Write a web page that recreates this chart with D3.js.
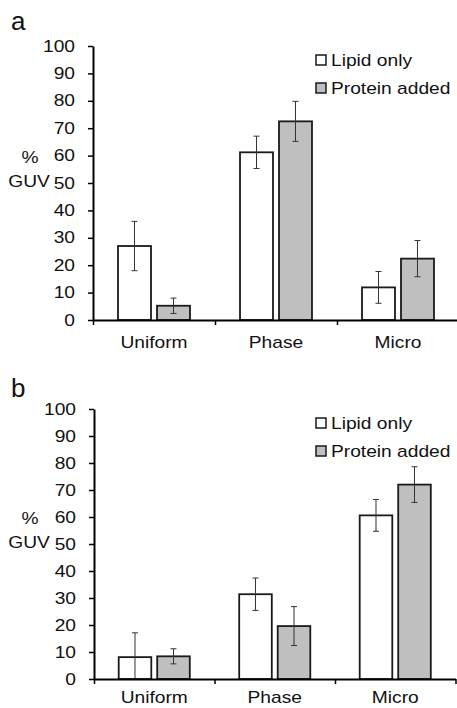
<!DOCTYPE html>
<html>
<head>
<meta charset="utf-8">
<script src="https://cdn.jsdelivr.net/npm/d3@7"></script>
<style>
  body { margin: 0; background: #fff; }
  text { font-family: Arial, "Liberation Sans", sans-serif; fill: #111; }
</style>
</head>
<body>
<svg id="chart" width="457" height="708"></svg>
<script>
// categories et séries
const categories = ["Uniform", "Phase", "Micro"];
const seriesNames = ["Lipid only", "Protein added"];
const yTicks = [0, 10, 20, 30, 40, 50, 60, 70, 80, 90, 100];

// panneau a
const aLipid = [27, 61.2, 11.9];
const aLipidErr = [9, 5.9, 5.8];
const aProtein = [5.2, 72.5, 22.4];
const aProteinErr = [2.8, 7.3, 6.6];

// panneau b
const bLipid = [8.1, 31.4, 60.6];
const bLipidErr = [9, 6, 5.9];
const bProtein = [8.4, 19.6, 72];
const bProteinErr = [2.8, 7.2, 6.6];

const fills = ["#ffffff", "#bfbfbf"];
const sx = 1.2; // le texte est étiré horizontalement dans l'image

const svg = d3.select("#chart");

const panels = [
  { letter: "a", letterY: 30, x0: 93, x1: 459, yTop: 46, yBottom: 320, labelY: 348,
    values: [aLipid, aProtein], errors: [aLipidErr, aProteinErr] },
  { letter: "b", letterY: 397, x0: 94, x1: 455.5, yTop: 409, yBottom: 679, labelY: 703,
    values: [bLipid, bProtein], errors: [bLipidErr, bProteinErr] }
];

panels.forEach(drawPanel);

function drawPanel(p) {
  const g = svg.append("g");

  const x = d3.scaleBand().domain(categories).range([p.x0, p.x1]);
  const bw = x.bandwidth();
  const xInner = d3.scaleBand().domain(seriesNames)
    .range([bw * 0.205, bw * 0.795]).paddingInner(0.154);
  const y = d3.scaleLinear().domain([0, 100]).range([p.yBottom, p.yTop]);

  // lettre du panneau
  g.append("text")
    .attr("x", 11).attr("y", p.letterY)
    .style("font-size", "26px")
    .text(p.letter);

  // barres
  seriesNames.forEach((s, si) => {
    g.append("g").selectAll("rect")
      .data(categories)
      .join("rect")
      .attr("x", c => x(c) + xInner(s))
      .attr("y", (c, i) => y(p.values[si][i]))
      .attr("width", xInner.bandwidth())
      .attr("height", (c, i) => y(0) - y(p.values[si][i]))
      .attr("fill", fills[si])
      .attr("stroke", "#1a1a1a")
      .attr("stroke-width", 1.8);
  });

  // barres d'erreur
  seriesNames.forEach((s, si) => {
    categories.forEach((c, i) => {
      const cx = x(c) + xInner(s) + xInner.bandwidth() / 2;
      const v = p.values[si][i], e = p.errors[si][i];
      const hi = v + e, lo = Math.max(0, v - e);
      const eg = g.append("g").attr("stroke", "#333").attr("stroke-width", 1);
      eg.append("line").attr("x1", cx).attr("x2", cx).attr("y1", y(hi)).attr("y2", y(lo));
      eg.append("line").attr("x1", cx - 3).attr("x2", cx + 3).attr("y1", y(hi)).attr("y2", y(hi));
      if (v - e > 0) {
        eg.append("line").attr("x1", cx - 3).attr("x2", cx + 3).attr("y1", y(lo)).attr("y2", y(lo));
      }
    });
  });

  // axe y
  const yAxis = g.append("g")
    .attr("transform", `translate(${p.x0},0)`)
    .call(d3.axisLeft(y).tickValues(yTicks).tickSize(5).tickSizeOuter(0));
  yAxis.select(".domain").attr("stroke", "#000").attr("stroke-width", 2);
  yAxis.selectAll(".tick line").attr("stroke", "#000").attr("stroke-width", 1.5);
  yAxis.selectAll(".tick text")
    .attr("x", -18 / sx)
    .attr("transform", `scale(${sx},1)`)
    .style("font-size", "16px")
    .attr("fill", "#111");

  // axe x : graduations aux limites des catégories
  const xEdges = d3.scaleLinear().domain([0, categories.length]).range([p.x0, p.x1]);
  const xTickAxis = g.append("g")
    .attr("transform", `translate(0,${p.yBottom})`)
    .call(d3.axisBottom(xEdges).tickValues(d3.range(categories.length + 1))
      .tickFormat("").tickSize(5).tickSizeOuter(0));
  xTickAxis.select(".domain").attr("stroke", "#000").attr("stroke-width", 2);
  xTickAxis.selectAll(".tick line").attr("stroke", "#000").attr("stroke-width", 1.5);

  // étiquettes des catégories
  const xLabelAxis = g.append("g")
    .attr("transform", `translate(0,${p.yBottom})`)
    .call(d3.axisBottom(x).tickSize(0).tickPadding(0));
  xLabelAxis.select(".domain").remove();
  xLabelAxis.selectAll(".tick text")
    .attr("y", p.labelY - p.yBottom)
    .attr("dy", 0)
    .attr("transform", `scale(${sx},1)`)
    .attr("x", 0)
    .style("font-size", "16px")
    .attr("fill", "#111");
  xLabelAxis.selectAll(".tick")
    .attr("transform", d => `translate(${(x(d) + bw / 2)},0)`);

  // titre de l'axe y
  [["%", 60, 7, 30], ["GUV", 50, 4, 29]].forEach(([t, v, dy, cx]) => {
    g.append("text")
      .attr("transform", `translate(${cx},${y(v) + dy}) scale(${sx},1)`)
      .attr("text-anchor", "middle")
      .style("font-size", "16px")
      .text(t);
  });

  // légende
  const legend = g.append("g").attr("transform", `translate(316,${p.yTop})`);
  seriesNames.forEach((s, si) => {
    const cy = 14 + si * 28;
    legend.append("rect")
      .attr("x", 0).attr("y", cy - 5)
      .attr("width", 10).attr("height", 10)
      .attr("fill", fills[si])
      .attr("stroke", "#1a1a1a")
      .attr("stroke-width", 1.5);
    legend.append("text")
      .attr("transform", `translate(15,${cy + 6}) scale(${sx},1)`)
      .style("font-size", "16px")
      .text(s);
  });
}
</script>
</body>
</html>
